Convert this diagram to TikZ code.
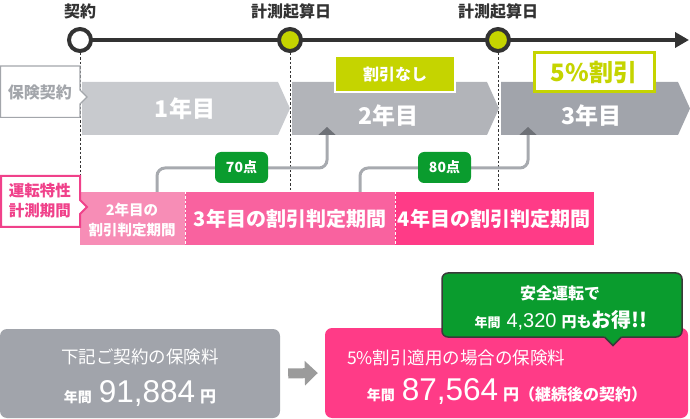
\documentclass[tikz,border=0pt]{standalone}
\usepackage{fontspec}
\setmainfont{Noto Sans CJK JP}
\newfontfamily\numfont{Liberation Sans}
\usetikzlibrary{arrows.meta}
\newcommand\myfs[1]{\fontsize{#1}{#1}\selectfont}
\definecolor{dark}{HTML}{333333}
\definecolor{yg}{HTML}{C5D400}
\definecolor{ga}{HTML}{C8CACE}
\definecolor{gb}{HTML}{B2B4B9}
\definecolor{gc}{HTML}{A1A4AB}
\definecolor{pka}{HTML}{F78DB6}
\definecolor{pkb}{HTML}{F9629F}
\definecolor{pkc}{HTML}{FF3B87}
\definecolor{grn}{HTML}{0A9C2E}
\definecolor{conngray}{HTML}{A7AAAF}
\definecolor{tipgray}{HTML}{6E7177}
\definecolor{lblgray}{HTML}{A3A6AB}
\definecolor{lblpink}{HTML}{F0418A}
\definecolor{arrgray}{HTML}{9B9B9B}
\definecolor{cborder}{HTML}{3A3A3A}
\begin{document}
\begin{tikzpicture}[x=1pt,y=-1pt,
  txt/.style={inner sep=0pt, outer sep=0pt, font=\bfseries},
  opendot/.style={circle, draw=dark, line width=4pt, fill=white, minimum size=22pt, inner sep=0pt},
  greendot/.style={opendot, fill=yg},
  dashline/.style={draw=dark, line width=0.8pt, dash pattern=on 2.5pt off 2pt},
  sepline/.style={draw=white, line width=0.8pt, dash pattern=on 2.5pt off 2pt},
  scoreline/.style={draw=conngray, line width=3pt, rounded corners=8pt, -{Triangle[length=8pt,width=17pt,color=tipgray]}},
  scorebox/.style={fill=grn, rounded corners=6pt, minimum width=53pt, minimum height=31pt, inner sep=0pt, text=white, font=\bfseries\myfs{14}},
  yeartxt/.style={txt, text=white, font=\bfseries\myfs{23}},
  periodtxt/.style={txt, text=white, font=\bfseries\myfs{20}},
]
\useasboundingbox (0,0) rectangle (690,419);

% ---------- timeline ----------
\node[txt, text=dark, font=\bfseries\myfs{16}] (lblc) at (80,11) {契約};
\node[txt, text=dark, font=\bfseries\myfs{16}] (lbls1) at (291,11) {計測起算日};
\node[txt, text=dark, font=\bfseries\myfs{16}] (lbls2) at (498,11) {計測起算日};
\coordinate (tend) at (689,40);
\coordinate (tstart) at (80,40);
\draw[line width=4pt, draw=dark, -{Triangle[length=14pt,width=15pt]}] (tstart) -- (tend);

% dashed guides
\coordinate (d0) at (80,246);
\coordinate (d1) at (290,192);
\coordinate (d2) at (498,192);
\draw[dashline] (80,53) -- (d0);
\draw[dashline] (290,53) -- (d1);
\draw[dashline] (498,53) -- (d2);

\node[opendot] (c0) at (80,40) {};
\node[greendot] (c1) at (290,40) {};
\node[greendot] (c2) at (498,40) {};

% ---------- year chevrons ----------
\fill[ga] (82,82) -- (278,82) -- (290,108.5) -- (278,135) -- (82,135) -- cycle;
\fill[gb] (292,82) -- (487,82) -- (499,108.5) -- (487,135) -- (292,135) -- cycle;
\fill[gc] (501,82) -- (678,82) -- (690,108.5) -- (678,135) -- (501,135) -- cycle;
\node[yeartxt] (y1) at (185,109) {1年目};
\node[yeartxt] (y2) at (388,116) {2年目};
\node[yeartxt] (y3) at (591,116) {3年目};

% left label: 保険契約
\draw[fill=white, draw=lblgray, line width=1.2pt, line join=miter]
  (0.6,66) -- (80,66) -- (80,90) -- (87,97) -- (80,104) -- (80,117.4) -- (0.6,117.4) -- cycle;
\node[txt, text=lblgray, font=\bfseries\myfs{16}] (hoken) at (40,92) {保険契約};

% discount labels
\node[fill=yg, draw=white, line width=2pt, minimum width=120pt, minimum height=36pt, inner sep=0pt,
      text=white, font=\bfseries\myfs{16}] (nodisc) at (395,74) {割引なし};
\node[fill=white, draw=yg, line width=3pt, minimum width=120pt, minimum height=39pt, inner sep=0pt,
      text=yg, font=\bfseries\myfs{24}] (disc5) at (594,72.5) {5\%割引};

% ---------- measurement periods ----------
\fill[pka] (80,192) rectangle (185,245);
\fill[pkb] (185,192) rectangle (395,245);
\fill[pkc] (395,192) rectangle (594,245);
\coordinate (sp1) at (185,245);
\coordinate (sp2) at (395,245);
\draw[sepline] (185,192) -- (sp1);
\draw[sepline] (395,192) -- (sp2);
\node[txt, text=white, font=\bfseries\fontsize{14.5}{20}\selectfont, align=center] (p2) at (132,220)
  {2年目の\\割引判定期間};
\node[periodtxt] (p3) at (290,219) {3年目の割引判定期間};
\node[periodtxt] (p4) at (494,219) {4年目の割引判定期間};

% left label: 運転特性計測期間
\draw[fill=white, draw=lblpink, line width=2pt, line join=miter]
  (1,176) -- (80,176) -- (80,200) -- (87,207) -- (80,214) -- (80,227) -- (1,227) -- cycle;
\node[txt, text=lblpink, font=\bfseries\fontsize{15.5}{20}\selectfont, align=center] (unten) at (40,201)
  {運転特性\\計測期間};

% ---------- score connectors ----------
\coordinate (s1) at (157,192);
\coordinate (k1) at (327,168);
\coordinate (t1) at (327,127);
\coordinate (s2) at (360,192);
\coordinate (k2) at (528,168);
\coordinate (t2) at (528,127);
\draw[scoreline] (s1) |- (k1) -- (t1);
\draw[scoreline] (s2) |- (k2) -- (t2);
\node[scorebox] (pt70) at (241.5,167.5) {70点};
\node[scorebox] (pt80) at (444.5,167.5) {80点};

% ---------- bottom boxes ----------
\node[fill=gc, rounded corners=7pt, minimum width=280pt, minimum height=89pt, inner sep=0pt] (graybox) at (140,373.5) {};
\node[fill=pkc, rounded corners=7pt, minimum width=363pt, minimum height=90pt, inner sep=0pt] (pinkbox) at (506.5,373) {};

\draw[line width=10pt, draw=arrgray, -{Triangle[length=13pt,width=24pt]}]
  ([xshift=8pt]graybox.east) -- ([xshift=-7pt]pinkbox.west);

\node[txt, text=white, font=\mdseries\myfs{17.5}] (gt1) at (140,357) {下記ご契約の保険料};
\node[txt, text=white, anchor=base] (gt2) at (140,402)
  {{\bfseries\myfs{14}年間}\hspace{7pt}{\mdseries\numfont\myfs{31.5}91,884}\hspace{5pt}{\bfseries\myfs{16}円}};

\node[txt, text=white, font=\mdseries\myfs{17.5}, anchor=west] (pt1) at (347,358) {5\%割引適用の場合の保険料};
\node[txt, text=white, anchor=base] (pt2) at (507,400)
  {{\bfseries\myfs{14}年間}\hspace{7pt}{\mdseries\numfont\myfs{31.5}87,564}\hspace{5pt}{\bfseries\myfs{16}円（継続後の契約）}};

% callout
\node[fill=grn, draw=cborder, line width=1.5pt, rounded corners=6pt, minimum width=240pt, minimum height=64pt, inner sep=0pt] (callout) at (562,305) {};
\fill[grn] (604,336) -- (613,346) -- (622,336) -- cycle;
\draw[draw=cborder, line width=1.5pt, line join=miter] (604.5,337) -- (613,345.5) -- (621.5,337);
\node[txt, text=white, font=\bfseries\myfs{16}] (ct1) at (560,293) {安全運転で};
\node[txt, text=white, anchor=base] (ct2) at (561,327)
  {{\bfseries\myfs{13}年間}\hspace{6pt}{\mdseries\numfont\myfs{20}4,320}\hspace{5pt}{\bfseries\myfs{15}円も}{\bfseries\myfs{20}お得!!}};
\end{tikzpicture}
\end{document}
